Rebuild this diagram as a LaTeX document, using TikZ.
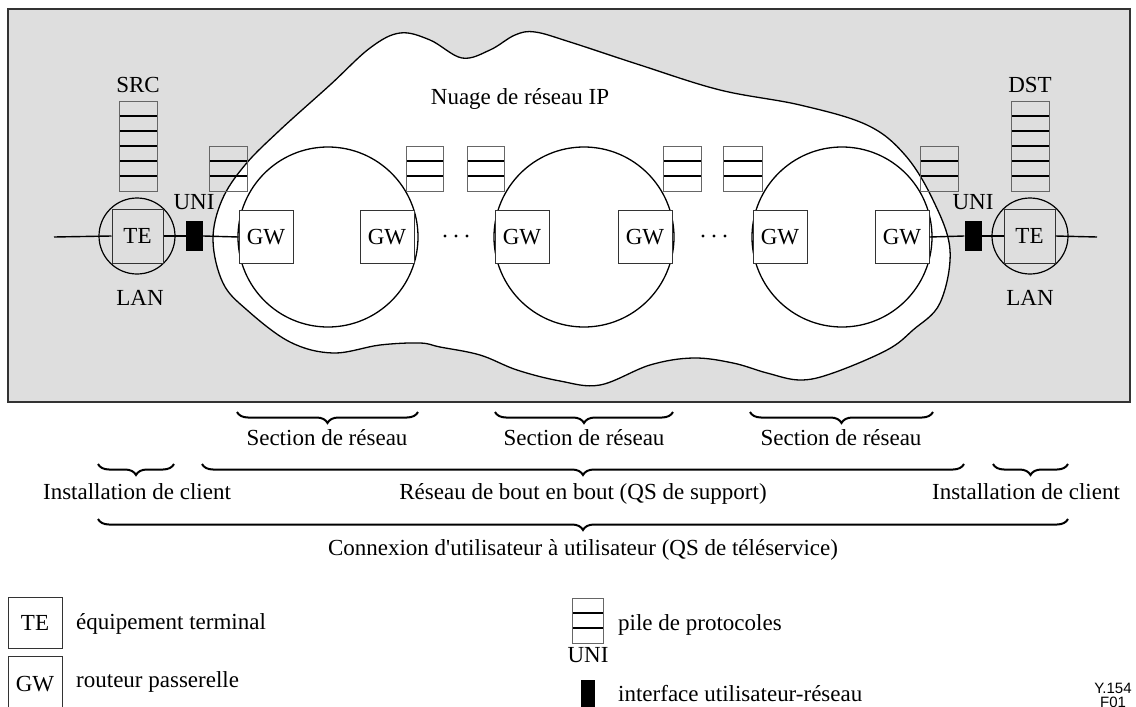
\documentclass[tikz,border=0pt]{standalone}
\usepackage{fontspec}
\setmainfont{Liberation Serif}
\newfontfamily\arialf{Liberation Sans}
\usetikzlibrary{decorations.pathreplacing}
\definecolor{bg}{RGB}{222,222,222}
\begin{document}
\begin{tikzpicture}[x=1pt,y=-1pt,
  font=\fontsize{23}{27}\selectfont,
  lbl/.style={inner sep=0pt, text height=15pt, text depth=0pt},
  gwbox/.style={draw=black!80, line width=1pt, fill=white, minimum width=54pt, minimum height=53pt, inner sep=0pt, text height=15pt, text depth=0pt},
  tebox/.style={draw=black!80, line width=1pt, fill=bg, minimum width=51pt, minimum height=54pt, inner sep=0pt, text height=15pt, text depth=0pt},
  tecirc/.style={circle, draw=black, line width=1.2pt, minimum size=76pt, inner sep=0pt},
  netcirc/.style={circle, draw=black, line width=1.3pt, minimum size=180pt, inner sep=0pt},
  unibox/.style={fill=black, minimum width=17pt, minimum height=30pt, inner sep=0pt},
  dotmark/.style={circle, fill=black, minimum size=3.4pt, inner sep=0pt},
  wire/.style={line width=1.4pt},
  brc/.style={decorate, decoration={brace, mirror, amplitude=11pt}, line width=2pt},
  pics/pstack/.style 2 args={code={
    \pgfmathtruncatemacro\nl{#1-1}
    \foreach \k in {1,...,\nl} \draw[line width=1.4pt] (-#2/2,-15*\k) -- (#2/2,-15*\k);
    \draw[black!60, line width=0.9pt] (-#2/2,0) rectangle (#2/2,-15*#1);
  }}
]
\useasboundingbox (0,0) rectangle (1136,707);
% background panel
\fill[bg] (8,9) rectangle (1130,402);
\draw[black!80, line width=1.4pt] (8,9) rectangle (1130,402);

% IP cloud
\draw[line width=1.3pt, fill=white] plot[smooth cycle, tension=0.6] coordinates {
  (213,240) (222,200) (245,165) (280,130) (330,85) (370,48) (400,33) (430,40)
  (462,58) (490,50) (515,35) (535,32) (570,42) (640,65) (720,90) (800,105)
  (867,125) (905,155) (933,200) (950,250) (940,303) (913,330) (887,350)
  (833,373) (800,380) (767,373) (733,363) (693,358) (650,365) (600,385)
  (560,381) (517,370) (480,355) (440,347) (420,343) (380,345) (333,353)
  (290,342) (247,310) (223,283)};
\node[lbl] (cloud) at (520,97) {Nuage de réseau IP};

% network sections
\node[netcirc] (ns1) at (328,237) {};
\node[netcirc] (ns2) at (584,237) {};
\node[netcirc] (ns3) at (842,237) {};

% gateways
\node[gwbox] (gw1) at (266,237) {GW};
\node[gwbox] (gw2) at (387,237) {GW};
\node[gwbox] (gw3) at (522,237) {GW};
\node[gwbox] (gw4) at (645,237) {GW};
\node[gwbox] (gw5) at (780,237) {GW};
\node[gwbox] (gw6) at (902,237) {GW};
\foreach \x [count=\i] in {445,456,467,703,714,725}
  \node[dotmark] (dot\i) at (\x,236) {};

% protocol stacks
\pic at (138,191) {pstack={6}{38}};
\pic at (1030,191) {pstack={6}{38}};
\pic at (228,191) {pstack={3}{38}};
\pic at (424.5,191) {pstack={3}{37}};
\pic at (485.5,191) {pstack={3}{37}};
\pic at (682,191) {pstack={3}{38}};
\pic at (742.5,191) {pstack={3}{39}};
\pic at (939,191) {pstack={3}{38}};
\node[lbl] (src) at (138,85) {SRC};
\node[lbl] (dst) at (1030,85) {DST};

% terminals
\node[tecirc] (lanL) at (137,236) {};
\node[tecirc] (lanR) at (1030,236) {};
\node[tebox] (teL) at (137.5,236) {TE};
\node[tebox] (teR) at (1029.5,236) {TE};
\node[lbl] (lanLt) at (140,298) {LAN};
\node[lbl] (lanRt) at (1030,298) {LAN};

% UNI
\node[unibox] (uniL) at (194.5,236) {};
\node[unibox] (uniR) at (973,236) {};
\node[lbl] (uniLt) at (194,202) {UNI};
\node[lbl] (uniRt) at (973,202) {UNI};

% wires
\coordinate (endL) at (54,237);
\coordinate (endR) at (1097,237);
\draw[wire] (endL) -- (teL.west);
\draw[wire] (teL.east) -- (uniL.west);
\draw[wire] (uniL.east) -- (gw1.west);
\draw[wire] (gw6.east) -- (uniR.west);
\draw[wire] (uniR.east) -- (teR.west);
\draw[wire] (teR.east) -- (endR);

% braces
\draw[brc] (237,412) -- (418,412);
\draw[brc] (495,412) -- (673,412);
\draw[brc] (750,412) -- (933,412);
\node[lbl] (sec1) at (327,438) {Section de réseau};
\node[lbl] (sec2) at (584,438) {Section de réseau};
\node[lbl] (sec3) at (841,438) {Section de réseau};

\draw[brc] (98,464) -- (174,464);
\draw[brc] (202,464) -- (964,464);
\draw[brc] (993,464) -- (1068,464);
\node[lbl] (instL) at (137,492) {Installation de client};
\node[lbl] (e2e) at (583,492) {Réseau de bout en bout (QS de support)};
\node[lbl] (instR) at (1026,492) {Installation de client};

\draw[brc] (98,519) -- (1068,519);
\node[lbl] (conn) at (583,548) {Connexion d\textquotesingle utilisateur à utilisateur (QS de téléservice)};

% legend
\node[tebox, fill=white, minimum width=54pt, minimum height=51pt] (lgTE) at (35,622.5) {TE};
\node[gwbox, minimum height=56pt] (lgGW) at (35,684) {GW};
\node[lbl, anchor=west] (lgTEt) at (76,622) {équipement terminal};
\node[lbl, anchor=west] (lgGWt) at (76,680) {routeur passerelle};
\pic at (587.5,643) {pstack={3}{31}};
\node[lbl, anchor=west] (lgSt) at (618,623) {pile de protocoles};
\node[lbl] (lgUNIt) at (588,655) {UNI};
\node[unibox, minimum width=14pt, minimum height=30pt] (lgUNI) at (588,695) {};
\node[lbl, anchor=west] (lgUNId) at (618,694) {interface utilisateur-réseau};

\node[align=center, inner sep=0pt, font=\arialf\fontsize{15}{14}\selectfont] (ref) at (1113,695) {Y.154\\F01};
\end{tikzpicture}
\end{document}
